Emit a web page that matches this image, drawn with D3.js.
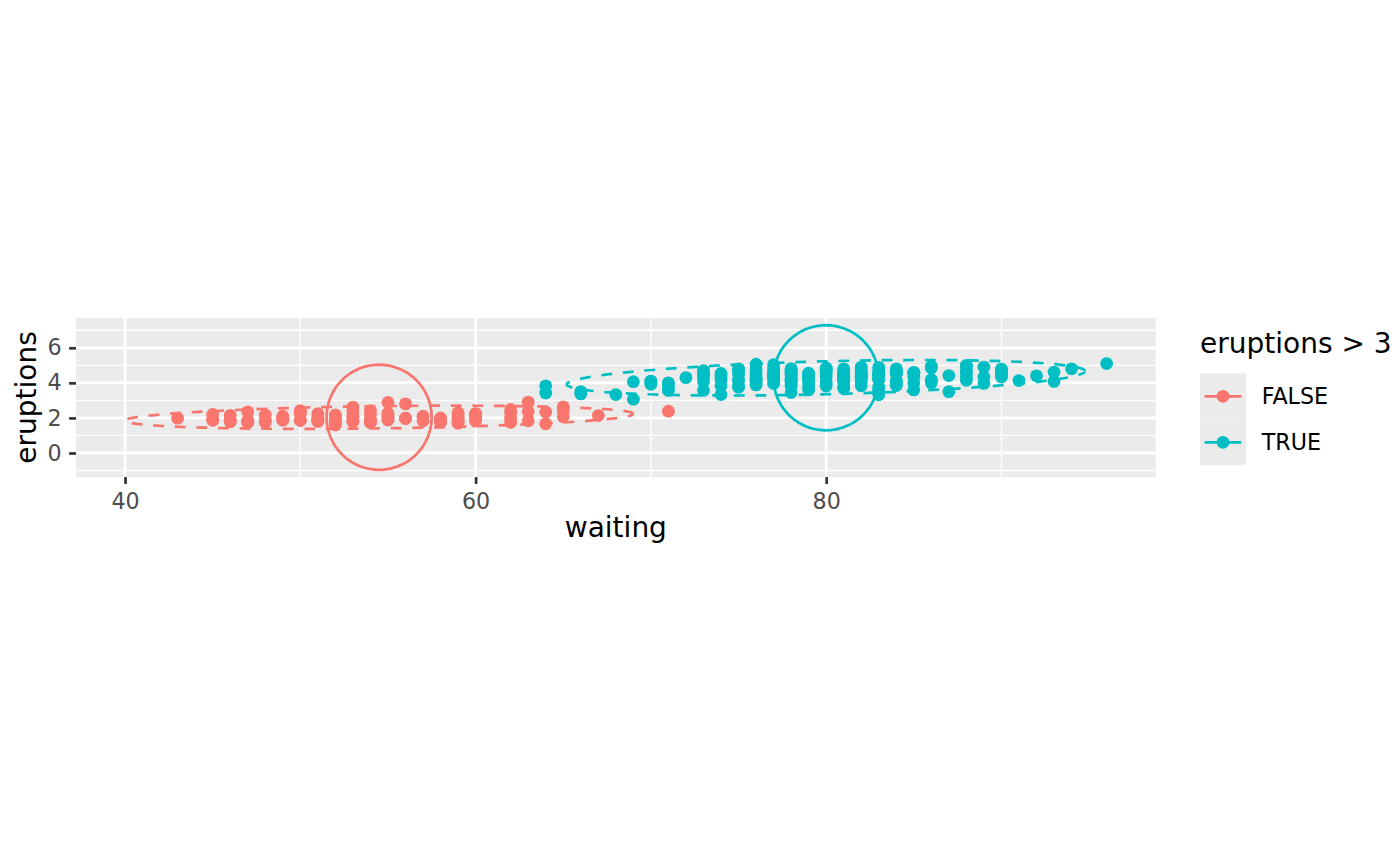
<!DOCTYPE html>
<html>
<head>
<meta charset="utf-8">
<script src="https://cdn.jsdelivr.net/npm/d3@7"></script>
<style>
  body { margin: 0; background: #ffffff; }
  svg { display: block; }
  text { font-family: "DejaVu Sans", sans-serif; }
</style>
</head>
<body>
<svg id="chart" width="1400" height="866"></svg>
<script>
// ---- data (faithful) ----
const waiting = [79,54,74,62,85,55,88,85,51,85,54,84,78,47,83,52,62,84,52,79,51,47,78,69,74,83,55,76,78,79,73,77,66,80,74,52,48,80,59,90,80,58,84,58,73,83,64,53,82,59,75,90,54,80,54,83,71,64,77,81,59,84,48,82,60,92,78,78,65,73,82,56,79,71,62,76,60,78,76,83,75,82,70,65,73,88,76,80,48,86,60,90,50,78,63,72,84,75,51,82,62,88,49,83,81,47,84,52,86,81,75,59,89,79,59,81,50,85,59,87,53,69,77,56,88,81,45,82,55,90,45,83,56,89,46,82,51,86,53,79,81,60,82,77,76,59,80,49,96,53,77,77,65,81,71,70,81,93,53,89,45,86,58,78,66,76,63,88,52,93,49,57,77,68,81,81,73,50,85,74,55,77,83,83,51,78,84,46,83,55,81,57,76,84,77,81,87,77,51,78,60,82,91,53,78,46,77,84,49,83,71,80,49,75,64,76,53,94,55,76,50,82,54,75,78,79,78,78,70,79,70,54,86,50,90,54,54,77,79,64,75,47,86,63,85,82,57,82,67,74,54,83,73,73,88,80,71,83,56,79,78,84,58,83,43,60,75,81,46,90,46,74];
const eruptions = [3.600,1.800,3.333,2.283,4.533,2.883,4.700,3.600,1.950,4.350,1.833,3.917,4.200,1.750,4.700,2.167,1.750,4.800,1.600,4.250,1.800,1.750,3.450,3.067,4.533,3.600,1.967,4.083,3.850,4.433,4.300,4.467,3.367,4.033,3.833,2.017,1.867,4.833,1.833,4.783,4.350,1.883,4.567,1.750,4.533,3.317,3.833,2.100,4.633,2.000,4.800,4.716,1.833,4.833,1.733,4.883,3.717,1.667,4.567,4.317,2.233,4.500,1.750,4.800,1.817,4.400,4.167,4.700,2.067,4.700,4.033,1.967,4.500,4.000,1.983,5.067,2.017,4.567,3.883,3.600,4.133,4.333,4.100,2.633,4.067,4.933,3.950,4.517,2.167,4.000,2.200,4.333,1.867,4.817,1.833,4.300,4.667,3.750,1.867,4.900,2.483,4.367,2.100,4.500,4.050,1.867,4.700,1.783,4.850,3.683,4.733,2.300,4.900,4.417,1.700,4.633,2.317,4.600,1.817,4.417,2.617,4.067,4.250,1.967,4.600,3.767,1.917,4.500,2.267,4.650,1.867,4.167,2.800,4.333,1.833,4.383,1.883,4.933,2.033,3.733,4.233,2.233,4.533,4.817,4.333,1.983,4.633,2.017,5.100,1.800,5.033,4.000,2.400,4.600,3.567,4.000,4.500,4.083,1.800,3.967,2.200,4.150,2.000,3.833,3.500,4.583,2.367,5.000,1.933,4.617,1.917,2.083,4.583,3.333,4.167,4.333,4.500,2.417,4.000,4.167,1.883,4.583,4.250,3.767,2.033,4.433,4.083,1.833,4.417,2.183,4.800,1.833,4.800,4.100,3.966,4.233,3.500,4.366,2.250,4.667,2.100,4.350,4.133,1.867,4.600,1.783,4.367,3.850,1.933,4.500,2.383,4.700,1.867,3.833,3.417,4.233,2.400,4.800,2.000,4.150,1.867,4.267,1.750,4.483,4.000,4.117,4.083,4.267,3.917,4.550,4.083,2.417,4.183,2.217,4.450,1.883,1.850,4.283,3.950,2.333,4.150,2.350,4.933,2.900,4.583,3.833,2.083,4.367,2.133,4.350,2.200,4.450,3.567,4.500,4.150,3.817,3.917,4.450,2.000,4.283,4.767,4.533,1.850,4.250,1.983,2.250,4.750,4.117,2.150,4.417,1.817,4.467];
const groupNames = ["FALSE", "TRUE"];
const groupColors = ["#F8766D", "#00BFC4"];
const xTicks = [40, 60, 80];
const xMinor = [50, 70, 90];
const yTicks = [0, 2, 4, 6];
const yMinor = [-1, 1, 3, 5, 7];
const xTitle = "waiting";
const yTitle = "eruptions";
const legendTitle = "eruptions > 3";
const ellipseLevel = 0.95;   // stat_ellipse(type = "norm")
const circleLevel = 3;       // stat_ellipse(type = "euclid", level = 3)
const segments = 51;

// ---- stats ----
const n = Math.min(waiting.length, eruptions.length);
const pts = d3.range(n).map(i => ({ x: waiting[i], y: eruptions[i], g: eruptions[i] > 3 ? 1 : 0 }));
const groups = [0, 1].map(g => pts.filter(d => d.g === g));
const unit = d3.range(segments + 1).map(k => { const a = k * 2 * Math.PI / segments; return [Math.cos(a), Math.sin(a)]; });

function normEllipse(ps) {
  const m = ps.length;
  const mx = d3.mean(ps, d => d.x), my = d3.mean(ps, d => d.y);
  let sxx = 0, sxy = 0, syy = 0;
  ps.forEach(d => { const dx = d.x - mx, dy = d.y - my; sxx += dx * dx; sxy += dx * dy; syy += dy * dy; });
  sxx /= (m - 1); sxy /= (m - 1); syy /= (m - 1);
  const dfd = m - 1;
  const qf = (dfd / 2) * (Math.pow(1 - ellipseLevel, -2 / dfd) - 1);
  const radius = Math.sqrt(2 * qf);
  const r11 = Math.sqrt(sxx), r12 = sxy / r11, r22 = Math.sqrt(syy - r12 * r12);
  return unit.map(([c, s]) => [mx + radius * c * r11, my + radius * (c * r12 + s * r22)]);
}
function euclidCircle(ps) {
  const mx = d3.mean(ps, d => d.x), my = d3.mean(ps, d => d.y);
  const mv = Math.min(d3.variance(ps, d => d.x), d3.variance(ps, d => d.y));
  const r = Math.sqrt(mv), radius = circleLevel / r;
  return unit.map(([c, s]) => [mx + radius * r * c, my + radius * r * s]);
}
const ellipses = groups.map(normEllipse);
const circles = groups.map(euclidCircle);

// ---- scales (coord_fixed) ----
const allX = pts.map(d => d.x).concat(...ellipses.map(e => e.map(p => p[0])), ...circles.map(e => e.map(p => p[0])));
const allY = pts.map(d => d.y).concat(...ellipses.map(e => e.map(p => p[1])), ...circles.map(e => e.map(p => p[1])));
function expand(ext) { const d = (ext[1] - ext[0]) * 0.05; return [ext[0] - d, ext[1] + d]; }
const xd = expand(d3.extent(allX)), yd = expand(d3.extent(allY));
const L = 76, R = 1155.7, midY = 397.5;
const W = R - L, H = W * (yd[1] - yd[0]) / (xd[1] - xd[0]);
const T = midY - H / 2, B = midY + H / 2;
const x = d3.scaleLinear().domain(xd).range([L, R]);
const y = d3.scaleLinear().domain(yd).range([B, T]);
const ptR = 6.4;

const svg = d3.select("#chart");
svg.append("rect").attr("width", 1400).attr("height", 866).attr("fill", "#ffffff");
svg.append("rect").attr("x", L).attr("y", T).attr("width", W).attr("height", H).attr("fill", "#EBEBEB");

const grid = svg.append("g");
grid.selectAll(".ymin").data(yMinor.filter(v => v >= yd[0] && v <= yd[1])).join("line")
  .attr("x1", L).attr("x2", R).attr("y1", d => y(d)).attr("y2", d => y(d))
  .attr("stroke", "#fff").attr("stroke-width", 1.35);
grid.selectAll(".xmin").data(xMinor.filter(v => v >= xd[0] && v <= xd[1])).join("line")
  .attr("y1", T).attr("y2", B).attr("x1", d => x(d)).attr("x2", d => x(d))
  .attr("stroke", "#fff").attr("stroke-width", 1.35);
grid.selectAll(".ymaj").data(yTicks).join("line")
  .attr("x1", L).attr("x2", R).attr("y1", d => y(d)).attr("y2", d => y(d))
  .attr("stroke", "#fff").attr("stroke-width", 2.7);
grid.selectAll(".xmaj").data(xTicks).join("line")
  .attr("y1", T).attr("y2", B).attr("x1", d => x(d)).attr("x2", d => x(d))
  .attr("stroke", "#fff").attr("stroke-width", 2.7);

// points
svg.append("g").selectAll("circle").data(pts).join("circle")
  .attr("cx", d => x(d.x)).attr("cy", d => y(d.y)).attr("r", ptR)
  .attr("fill", d => groupColors[d.g]);

const line = d3.line().x(p => x(p[0])).y(p => y(p[1]));
svg.append("g").selectAll("path").data(ellipses).join("path")
  .attr("d", line).attr("fill", "none")
  .attr("stroke", (d, i) => groupColors[i]).attr("stroke-width", 2.7)
  .attr("stroke-dasharray", "10.8,10.8");
svg.append("g").selectAll("path").data(circles).join("path")
  .attr("d", line).attr("fill", "none")
  .attr("stroke", (d, i) => groupColors[i]).attr("stroke-width", 2.7);

// axes
function styleAxis(g) {
  g.select(".domain").remove();
  g.selectAll(".tick line").attr("stroke", "#333333").attr("stroke-width", 2.7);
  g.selectAll(".tick text").attr("fill", "#4D4D4D").style("font-size", "22.2px")
    .style("font-family", '"DejaVu Sans", sans-serif');
}
svg.append("g").attr("transform", `translate(0,${B})`)
  .call(d3.axisBottom(x).tickValues(xTicks).tickSize(6.9).tickPadding(9.6).tickFormat(d3.format("d")))
  .call(styleAxis);
svg.append("g").attr("transform", `translate(${L},0)`)
  .call(d3.axisLeft(y).tickValues(yTicks).tickSize(6.9).tickPadding(7.4).tickFormat(d3.format("d")))
  .call(styleAxis);

svg.append("text").attr("x", (L + R) / 2).attr("y", 537.3).attr("text-anchor", "middle")
  .style("font-size", "28px").attr("fill", "#000").text(xTitle);
svg.append("text").attr("transform", `translate(36,${midY}) rotate(-90)`).attr("text-anchor", "middle")
  .style("font-size", "28px").attr("fill", "#000").text(yTitle);

// legend
const lg = svg.append("g");
lg.append("text").attr("x", 1200).attr("y", 353).style("font-size", "28px").attr("fill", "#000").text(legendTitle);
const keyX = 1200, keyY = 373.3, keyS = 46;
groupNames.forEach((name, i) => {
  const ky = keyY + i * keyS;
  lg.append("rect").attr("x", keyX).attr("y", ky).attr("width", keyS).attr("height", keyS).attr("fill", "#EBEBEB");
  lg.append("line").attr("x1", keyX + keyS * 0.1).attr("x2", keyX + keyS * 0.9)
    .attr("y1", ky + keyS / 2).attr("y2", ky + keyS / 2)
    .attr("stroke", groupColors[i]).attr("stroke-width", 2.7);
  lg.append("circle").attr("cx", keyX + keyS / 2).attr("cy", ky + keyS / 2).attr("r", ptR).attr("fill", groupColors[i]);
  lg.append("text").attr("x", 1261.7).attr("y", ky + keyS / 2).attr("dy", "0.36em")
    .style("font-size", "22.2px").attr("fill", "#000").text(name);
});
</script>
</body>
</html>
